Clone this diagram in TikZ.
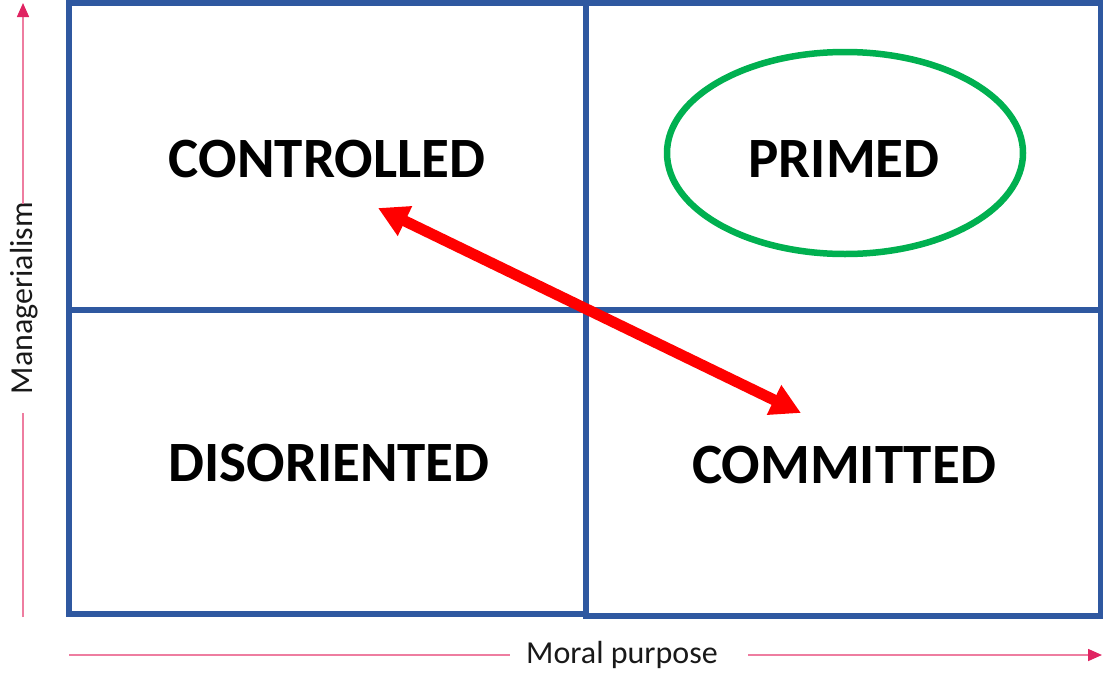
\documentclass[tikz,border=0pt]{standalone}
\usepackage{fontspec}
\setmainfont{Carlito}
\usetikzlibrary{arrows.meta}
\definecolor{gridblue}{RGB}{47,88,160}
\definecolor{axispink}{RGB}{238,125,160}
\definecolor{tippink}{RGB}{224,36,98}
\definecolor{ringgreen}{RGB}{0,176,80}
\definecolor{arrowred}{RGB}{255,0,0}
\begin{document}
\begin{tikzpicture}[x=1pt,y=-1pt,
  gridline/.style={draw=gridblue,line width=5.5pt,line join=miter},
  quadlabel/.style={font=\bfseries\fontsize{57}{60}\selectfont,inner sep=0pt},
  axislabel/.style={font=\fontsize{32}{34}\selectfont,inner sep=0pt,text=black!90},
  axisline/.style={draw=axispink,line width=1.6pt},
  axisarrow/.style={axisline,-{Triangle[length=14pt,width=12pt,color=tippink]}},
  ring/.style={draw=ringgreen,line width=6.5pt},
  swing/.style={draw=arrowred,line width=11pt,
    {Triangle[length=30pt,width=31pt]}-{Triangle[length=30pt,width=31pt]}}]
  \useasboundingbox (0,0) rectangle (1103,672);

  % quadrant frame: left column sits a touch higher at the bottom
  \draw[gridline] (586,614) -- (69,614) -- (69,3) -- (1101,3) -- (1101,616) -- (586,616) -- (586,3);
  \draw[gridline] (69,310) -- (1101,310);

  % quadrant labels
  \node[quadlabel] (controlled) at (327,159) {CONTROLLED};
  \node[quadlabel] (primed) at (844,159) {PRIMED};
  \node[quadlabel] (disoriented) at (329,463) {DISORIENTED};
  \node[quadlabel] (committed) at (844,465) {COMMITTED};

  % highlight around the target quadrant
  \draw[ring] (845,153) ellipse [x radius=178, y radius=101];

  % movement between controlled and committed
  \coordinate (swingA) at (378,208);
  \coordinate (swingB) at (801,413);
  \draw[swing] (swingA) -- (swingB);

  % vertical axis
  \node[axislabel,rotate=90] (ylab) at (24,298) {Managerialism};
  \coordinate (ybot) at (23,617);
  \coordinate (ylow) at (23,413);
  \coordinate (yhigh) at (23,204);
  \coordinate (ytop) at (23,3);
  \draw[axisline] (ybot) -- (ylow);
  \draw[axisarrow] (yhigh) -- (ytop);

  % horizontal axis
  \node[axislabel] (xlab) at (622,655) {Moral purpose};
  \coordinate (xleft) at (69,655);
  \coordinate (xgapl) at (510,655);
  \coordinate (xgapr) at (748,655);
  \coordinate (xright) at (1102,655);
  \draw[axisline] (xleft) -- (xgapl);
  \draw[axisarrow] (xgapr) -- (xright);
\end{tikzpicture}
\end{document}
